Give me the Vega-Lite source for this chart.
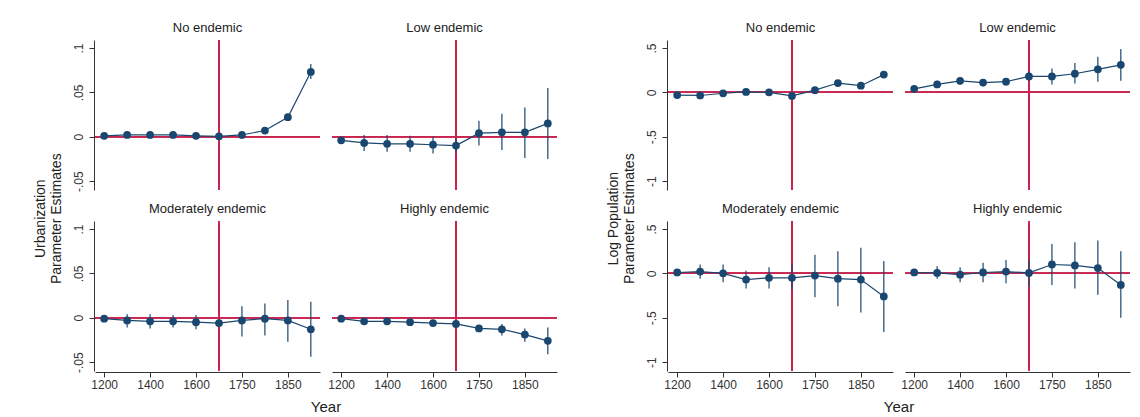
{
  "$schema": "https://vega.github.io/schema/vega-lite/v6.json",
  "background": "white",
  "padding": {"left": 33, "top": 22, "right": 10, "bottom": 5},
  "config": {
    "font": "Liberation Sans",
    "view": {"stroke": null},
    "axis": {"gridColor": "#eaf2f3", "domainColor": "#333", "tickColor": "#333", "labelColor": "#333", "labelFontSize": 12, "titleFontSize": 14, "titleFontWeight": "normal", "titleColor": "#222"},
    "header": {"labelFontSize": 13, "labelColor": "#222", "labelPadding": 4, "labelOrient": "top", "titleOrient": "bottom", "titleFontSize": 15, "titleFontWeight": "normal", "titleColor": "#222", "titlePadding": 10},
    "title": {"fontSize": 14, "fontWeight": "normal", "color": "#222", "orient": "left", "anchor": "middle", "offset": 8}
  },
  "spacing": 48,
  "hconcat": [
    {
      "title": {"text": ["Urbanization", "Parameter Estimates"], "orient": "left"},
      "data": {"values": [
        {"g":"No endemic","year":1200,"est":0.001,"lo":0.0,"hi":0.002},
        {"g":"No endemic","year":1300,"est":0.002,"lo":0.001,"hi":0.003},
        {"g":"No endemic","year":1400,"est":0.002,"lo":0.001,"hi":0.003},
        {"g":"No endemic","year":1500,"est":0.002,"lo":0.001,"hi":0.003},
        {"g":"No endemic","year":1600,"est":0.001,"lo":0.0,"hi":0.002},
        {"g":"No endemic","year":1700,"est":0.0005,"lo":-0.0005,"hi":0.0015},
        {"g":"No endemic","year":1750,"est":0.002,"lo":0.001,"hi":0.003},
        {"g":"No endemic","year":1800,"est":0.007,"lo":0.005,"hi":0.009},
        {"g":"No endemic","year":1850,"est":0.022,"lo":0.019,"hi":0.026},
        {"g":"No endemic","year":1900,"est":0.073,"lo":0.065,"hi":0.082},
        {"g":"Low endemic","year":1200,"est":-0.004,"lo":-0.007,"hi":-0.001},
        {"g":"Low endemic","year":1300,"est":-0.007,"lo":-0.016,"hi":0.002},
        {"g":"Low endemic","year":1400,"est":-0.008,"lo":-0.017,"hi":0.002},
        {"g":"Low endemic","year":1500,"est":-0.008,"lo":-0.017,"hi":0.001},
        {"g":"Low endemic","year":1600,"est":-0.009,"lo":-0.019,"hi":0.0},
        {"g":"Low endemic","year":1700,"est":-0.01,"lo":-0.018,"hi":-0.002},
        {"g":"Low endemic","year":1750,"est":0.004,"lo":-0.01,"hi":0.018},
        {"g":"Low endemic","year":1800,"est":0.005,"lo":-0.015,"hi":0.026},
        {"g":"Low endemic","year":1850,"est":0.005,"lo":-0.024,"hi":0.033},
        {"g":"Low endemic","year":1900,"est":0.015,"lo":-0.025,"hi":0.055},
        {"g":"Moderately endemic","year":1200,"est":-0.001,"lo":-0.003,"hi":0.001},
        {"g":"Moderately endemic","year":1300,"est":-0.003,"lo":-0.011,"hi":0.004},
        {"g":"Moderately endemic","year":1400,"est":-0.004,"lo":-0.012,"hi":0.004},
        {"g":"Moderately endemic","year":1500,"est":-0.004,"lo":-0.011,"hi":0.003},
        {"g":"Moderately endemic","year":1600,"est":-0.005,"lo":-0.013,"hi":0.003},
        {"g":"Moderately endemic","year":1700,"est":-0.006,"lo":-0.009,"hi":-0.003},
        {"g":"Moderately endemic","year":1750,"est":-0.003,"lo":-0.021,"hi":0.013},
        {"g":"Moderately endemic","year":1800,"est":-0.001,"lo":-0.02,"hi":0.016},
        {"g":"Moderately endemic","year":1850,"est":-0.003,"lo":-0.027,"hi":0.02},
        {"g":"Moderately endemic","year":1900,"est":-0.013,"lo":-0.044,"hi":0.018},
        {"g":"Highly endemic","year":1200,"est":-0.001,"lo":-0.002,"hi":0.0},
        {"g":"Highly endemic","year":1300,"est":-0.004,"lo":-0.005,"hi":-0.003},
        {"g":"Highly endemic","year":1400,"est":-0.004,"lo":-0.005,"hi":-0.003},
        {"g":"Highly endemic","year":1500,"est":-0.005,"lo":-0.006,"hi":-0.004},
        {"g":"Highly endemic","year":1600,"est":-0.006,"lo":-0.007,"hi":-0.005},
        {"g":"Highly endemic","year":1700,"est":-0.007,"lo":-0.008,"hi":-0.006},
        {"g":"Highly endemic","year":1750,"est":-0.012,"lo":-0.014,"hi":-0.01},
        {"g":"Highly endemic","year":1800,"est":-0.013,"lo":-0.02,"hi":-0.007},
        {"g":"Highly endemic","year":1850,"est":-0.019,"lo":-0.027,"hi":-0.012},
        {"g":"Highly endemic","year":1900,"est":-0.026,"lo":-0.041,"hi":-0.011}
      ]},
      "facet": {"field": "g", "type": "nominal", "title": "Year", "sort": ["No endemic","Low endemic","Moderately endemic","Highly endemic"]},
      "columns": 2,
      "spacing": {"column": 10, "row": 12},
      "spec": {
        "width": 225, "height": 150,
        "encoding": {
          "x": {"field": "year", "type": "ordinal", "scale": {"type": "point", "padding": 0.4}, "title": null,
                "axis": {"values": [1200,1400,1600,1750,1850], "labelAngle": 0, "grid": false}},
          "y": {"type": "quantitative", "scale": {"domain": [-0.06, 0.109], "nice": false, "zero": false}, "title": null,
                "axis": {"values": [-0.05, 0, 0.05, 0.1], "labelAngle": -90, "labelAlign": "center", "labelBaseline": "bottom", "labelPadding": 4,
                         "labelExpr": "datum.value == 0 ? '0' : replace(toString(datum.value), '0.', '.')"}}
        },
        "layer": [
          {"mark": {"type": "rule", "color": "#c8264f", "strokeWidth": 1.2}, "encoding": {"y": {"datum": 0}, "x": null}},
          {"mark": {"type": "rule", "color": "#c8264f", "strokeWidth": 1.2, "opacity": 0.85}, "encoding": {"x": {"datum": 1700}, "y": null}},
          {"mark": {"type": "rule", "color": "#1a476f", "strokeWidth": 1.2}, "encoding": {"y": {"field": "lo"}, "y2": {"field": "hi"}}},
          {"mark": {"type": "line", "color": "#1a476f", "strokeWidth": 1.2}, "encoding": {"y": {"field": "est"}}},
          {"mark": {"type": "circle", "color": "#1a476f", "opacity": 1, "size": 60}, "encoding": {"y": {"field": "est"}}}
        ]
      }
    },
    {
      "title": {"text": ["Log Population", "Parameter Estimates"], "orient": "left"},
      "data": {"values": [
        {"g":"No endemic","year":1200,"est":-0.03,"lo":-0.05,"hi":-0.01},
        {"g":"No endemic","year":1300,"est":-0.035,"lo":-0.055,"hi":-0.015},
        {"g":"No endemic","year":1400,"est":-0.01,"lo":-0.03,"hi":0.01},
        {"g":"No endemic","year":1500,"est":0.005,"lo":-0.015,"hi":0.025},
        {"g":"No endemic","year":1600,"est":0.0,"lo":-0.02,"hi":0.02},
        {"g":"No endemic","year":1700,"est":-0.04,"lo":-0.06,"hi":-0.02},
        {"g":"No endemic","year":1750,"est":0.025,"lo":0.005,"hi":0.045},
        {"g":"No endemic","year":1800,"est":0.105,"lo":0.08,"hi":0.13},
        {"g":"No endemic","year":1850,"est":0.075,"lo":0.05,"hi":0.1},
        {"g":"No endemic","year":1900,"est":0.2,"lo":0.17,"hi":0.23},
        {"g":"Low endemic","year":1200,"est":0.04,"lo":0.0,"hi":0.08},
        {"g":"Low endemic","year":1300,"est":0.09,"lo":0.05,"hi":0.13},
        {"g":"Low endemic","year":1400,"est":0.13,"lo":0.09,"hi":0.17},
        {"g":"Low endemic","year":1500,"est":0.11,"lo":0.07,"hi":0.15},
        {"g":"Low endemic","year":1600,"est":0.12,"lo":0.08,"hi":0.16},
        {"g":"Low endemic","year":1700,"est":0.18,"lo":0.13,"hi":0.23},
        {"g":"Low endemic","year":1750,"est":0.18,"lo":0.09,"hi":0.27},
        {"g":"Low endemic","year":1800,"est":0.21,"lo":0.1,"hi":0.33},
        {"g":"Low endemic","year":1850,"est":0.26,"lo":0.12,"hi":0.4},
        {"g":"Low endemic","year":1900,"est":0.31,"lo":0.13,"hi":0.49},
        {"g":"Moderately endemic","year":1200,"est":0.01,"lo":-0.02,"hi":0.04},
        {"g":"Moderately endemic","year":1300,"est":0.02,"lo":-0.06,"hi":0.1},
        {"g":"Moderately endemic","year":1400,"est":0.0,"lo":-0.1,"hi":0.1},
        {"g":"Moderately endemic","year":1500,"est":-0.07,"lo":-0.17,"hi":0.03},
        {"g":"Moderately endemic","year":1600,"est":-0.05,"lo":-0.17,"hi":0.07},
        {"g":"Moderately endemic","year":1700,"est":-0.05,"lo":-0.18,"hi":0.1},
        {"g":"Moderately endemic","year":1750,"est":-0.025,"lo":-0.27,"hi":0.21},
        {"g":"Moderately endemic","year":1800,"est":-0.06,"lo":-0.37,"hi":0.25},
        {"g":"Moderately endemic","year":1850,"est":-0.07,"lo":-0.44,"hi":0.29},
        {"g":"Moderately endemic","year":1900,"est":-0.26,"lo":-0.66,"hi":0.14},
        {"g":"Highly endemic","year":1200,"est":0.01,"lo":-0.02,"hi":0.04},
        {"g":"Highly endemic","year":1300,"est":0.005,"lo":-0.06,"hi":0.08},
        {"g":"Highly endemic","year":1400,"est":-0.015,"lo":-0.1,"hi":0.07},
        {"g":"Highly endemic","year":1500,"est":0.01,"lo":-0.1,"hi":0.12},
        {"g":"Highly endemic","year":1600,"est":0.02,"lo":-0.11,"hi":0.15},
        {"g":"Highly endemic","year":1700,"est":0.005,"lo":-0.15,"hi":0.16},
        {"g":"Highly endemic","year":1750,"est":0.1,"lo":-0.13,"hi":0.33},
        {"g":"Highly endemic","year":1800,"est":0.09,"lo":-0.17,"hi":0.35},
        {"g":"Highly endemic","year":1850,"est":0.06,"lo":-0.24,"hi":0.37},
        {"g":"Highly endemic","year":1900,"est":-0.13,"lo":-0.5,"hi":0.25}
      ]},
      "facet": {"field": "g", "type": "nominal", "title": "Year", "sort": ["No endemic","Low endemic","Moderately endemic","Highly endemic"]},
      "columns": 2,
      "spacing": {"column": 10, "row": 12},
      "spec": {
        "width": 225, "height": 150,
        "encoding": {
          "x": {"field": "year", "type": "ordinal", "scale": {"type": "point", "padding": 0.4}, "title": null,
                "axis": {"values": [1200,1400,1600,1750,1850], "labelAngle": 0, "grid": false}},
          "y": {"type": "quantitative", "scale": {"domain": [-1.1, 0.59], "nice": false, "zero": false}, "title": null,
                "axis": {"values": [-1, -0.5, 0, 0.5], "labelAngle": -90, "labelAlign": "center", "labelBaseline": "bottom", "labelPadding": 4,
                         "labelExpr": "datum.value == 0 ? '0' : replace(toString(datum.value), '0.', '.')"}}
        },
        "layer": [
          {"mark": {"type": "rule", "color": "#c8264f", "strokeWidth": 1.2}, "encoding": {"y": {"datum": 0}, "x": null}},
          {"mark": {"type": "rule", "color": "#c8264f", "strokeWidth": 1.2, "opacity": 0.85}, "encoding": {"x": {"datum": 1700}, "y": null}},
          {"mark": {"type": "rule", "color": "#1a476f", "strokeWidth": 1.2}, "encoding": {"y": {"field": "lo"}, "y2": {"field": "hi"}}},
          {"mark": {"type": "line", "color": "#1a476f", "strokeWidth": 1.2}, "encoding": {"y": {"field": "est"}}},
          {"mark": {"type": "circle", "color": "#1a476f", "opacity": 1, "size": 60}, "encoding": {"y": {"field": "est"}}}
        ]
      }
    }
  ]
}
